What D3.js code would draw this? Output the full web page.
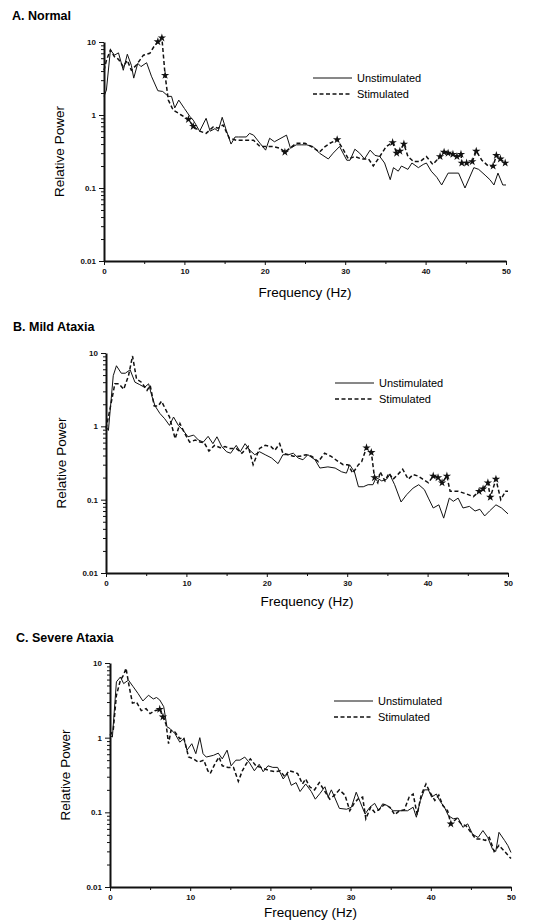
<!DOCTYPE html>
<html>
<head>
<meta charset="utf-8">
<script src="https://cdn.jsdelivr.net/npm/d3@7"></script>
<style>
  body { margin: 0; background: #fff; }
  svg { display: block; font-family: "Liberation Sans", Arial, sans-serif; }
  .domain { stroke: #111; stroke-width: 2; }
  .tick line { stroke: #111; }
</style>
</head>
<body>
<svg id="chart" width="543" height="922"></svg>
<script>
// [Hz, relative power]
var aUnstim = [[0,1.8],[0.3,2.2],[0.8,7.8],[1.3,6.6],[1.8,7.1],[2.4,4.1],[2.9,6.8],[3.4,4.8],[3.7,3.2],[4.2,5.1],[4.6,4.6],[5.3,5.2],[5.9,3.4],[6.7,2.15],[7.3,2.1],[8,1.8],[8.4,1.8],[8.8,1.25],[9.3,1.6],[10,1.23],[10.7,0.95],[11.1,0.85],[11.9,0.6],[12.7,0.9],[13.2,0.6],[13.8,0.65],[14.2,0.6],[14.7,0.93],[15.2,0.62],[15.8,0.4],[16.3,0.5],[16.7,0.5],[17.7,0.5],[18.1,0.56],[18.6,0.53],[19.4,0.41],[20.1,0.33],[20.6,0.48],[21.2,0.43],[22.7,0.53],[23.2,0.35],[23.9,0.39],[24.6,0.39],[25.2,0.39],[26,0.37],[26.8,0.3],[27.9,0.25],[28.5,0.3],[29.3,0.37],[30.2,0.24],[30.6,0.24],[31.2,0.34],[31.8,0.3],[32.4,0.25],[33.1,0.33],[33.7,0.28],[34.3,0.27],[34.9,0.22],[35.6,0.13],[36,0.19],[36.6,0.17],[37,0.2],[37.8,0.18],[38.3,0.22],[39.1,0.19],[39.7,0.21],[40.1,0.22],[40.7,0.17],[41.4,0.14],[42,0.11],[42.8,0.16],[44.1,0.16],[44.9,0.1],[46,0.19],[46.6,0.18],[47.4,0.15],[48,0.13],[48.5,0.11],[49,0.16],[49.6,0.11],[50,0.11]];
var aStim = [[0,4.1],[0.3,5.6],[0.8,7.8],[1.3,6.3],[1.8,5.8],[2.4,4.6],[2.9,5.6],[3.4,4.1],[4,4.8],[4.9,6.6],[5.7,7],[6.2,8.6],[6.7,10.1],[7.2,11.4],[7.6,3.5],[8,1.6],[8.6,1.17],[9.6,1],[10.5,0.87],[11.1,0.7],[11.9,0.6],[12.7,0.56],[13.6,0.69],[14.2,0.66],[14.8,0.73],[15.6,0.48],[16.5,0.45],[17.7,0.45],[18.6,0.45],[19.4,0.37],[20.2,0.37],[21,0.37],[21.9,0.35],[22.5,0.31],[23.1,0.35],[23.9,0.41],[25,0.41],[25.8,0.37],[26.8,0.31],[27.5,0.37],[28.1,0.41],[29,0.46],[29.8,0.33],[30.4,0.25],[31.2,0.27],[32,0.25],[32.9,0.25],[33.5,0.2],[34.3,0.27],[35.1,0.37],[35.9,0.42],[36.4,0.3],[36.8,0.32],[37.3,0.4],[37.8,0.27],[38.5,0.23],[39.3,0.23],[40.1,0.27],[40.9,0.21],[41.8,0.27],[42.3,0.31],[42.8,0.3],[43.4,0.29],[43.9,0.27],[44.4,0.29],[44.5,0.22],[45.1,0.22],[45.8,0.23],[46.3,0.32],[47,0.24],[47.8,0.2],[48.4,0.2],[48.8,0.28],[49.3,0.25],[49.9,0.22]];
var aStars = [[6.7,10.1],[7.2,11.4],[7.6,3.5],[10.5,0.87],[11.1,0.7],[22.5,0.31],[29,0.46],[35.9,0.42],[36.4,0.3],[36.8,0.32],[37.3,0.4],[41.8,0.27],[42.3,0.31],[42.8,0.3],[43.4,0.29],[43.9,0.27],[44.4,0.29],[44.5,0.22],[45.1,0.22],[45.8,0.23],[46.3,0.32],[48.4,0.2],[48.8,0.28],[49.3,0.25],[49.9,0.22]];

var bUnstim = [[0,1],[0.3,0.88],[0.9,4.9],[1.3,6.7],[1.9,5.3],[2.4,5.3],[3,5.9],[3.6,4],[4.2,3.7],[4.8,3.4],[5.3,3.8],[5.7,2.6],[6.1,1.9],[6.7,1.5],[7.3,1.27],[7.9,1.03],[8.4,1.34],[9,1.03],[9.6,0.88],[10.2,0.72],[10.9,0.76],[11.5,0.65],[12.1,0.61],[12.7,0.73],[13.3,0.58],[13.8,0.72],[14.4,0.53],[15,0.45],[15.5,0.43],[16.2,0.55],[16.7,0.45],[17.3,0.58],[17.9,0.47],[18.5,0.41],[19.1,0.45],[19.8,0.41],[20.6,0.37],[21.4,0.31],[22,0.41],[22.7,0.41],[23.3,0.43],[23.9,0.37],[24.5,0.35],[25.1,0.41],[26,0.35],[26.6,0.27],[27.6,0.28],[28.5,0.27],[29.3,0.24],[29.9,0.23],[30.3,0.3],[30.9,0.24],[31.4,0.15],[32,0.15],[32.6,0.16],[33.2,0.16],[33.6,0.2],[34.3,0.18],[34.9,0.19],[35.3,0.22],[35.9,0.16],[36.7,0.093],[37.4,0.117],[38.2,0.144],[38.9,0.16],[39.6,0.137],[40.1,0.105],[40.7,0.077],[41.4,0.085],[42,0.056],[42.7,0.105],[43.2,0.095],[43.8,0.105],[44.4,0.077],[45.2,0.081],[45.9,0.07],[46.5,0.074],[47.1,0.06],[47.7,0.07],[48.5,0.085],[49.2,0.077],[50,0.064]];
var bStim = [[0,0.93],[0.5,1.73],[1.1,3.8],[1.6,3.8],[2.2,3.2],[2.8,4.9],[3.3,9.1],[3.8,4.4],[4.4,4],[5.1,3.1],[5.5,3.6],[6,1.9],[6.5,1.9],[6.9,2.2],[7.3,1.8],[7.9,1.34],[8.6,0.68],[9.2,1.09],[9.8,0.8],[10.4,0.61],[11.1,0.65],[11.7,0.61],[12.2,0.6],[12.8,0.46],[13.5,0.55],[14.2,0.51],[14.8,0.53],[15.4,0.5],[16.2,0.5],[16.9,0.43],[17.7,0.53],[18.3,0.3],[19.1,0.5],[19.8,0.55],[20.5,0.53],[21,0.47],[21.6,0.58],[22,0.43],[22.7,0.41],[23.3,0.39],[24.1,0.39],[24.9,0.41],[25.6,0.39],[26.4,0.33],[27.2,0.43],[28,0.39],[28.9,0.33],[29.5,0.3],[30.1,0.3],[30.7,0.23],[31.4,0.3],[31.8,0.33],[32.4,0.51],[33,0.44],[33.4,0.2],[33.8,0.17],[34.1,0.24],[34.7,0.18],[35.2,0.23],[35.7,0.19],[36.3,0.22],[36.9,0.26],[37.6,0.19],[38.2,0.22],[38.8,0.21],[39.4,0.19],[40.1,0.17],[40.7,0.21],[41.3,0.2],[41.8,0.17],[42.4,0.21],[42.8,0.13],[43.8,0.13],[44.8,0.12],[45.7,0.11],[46.4,0.13],[46.9,0.14],[47.5,0.17],[47.8,0.108],[48.5,0.19],[49.1,0.1],[49.7,0.13],[50,0.13]];
var bStars = [[32.4,0.51],[33,0.44],[33.4,0.2],[40.7,0.21],[41.3,0.2],[41.8,0.17],[42.4,0.21],[46.4,0.13],[46.9,0.14],[47.5,0.17],[47.8,0.108],[48.5,0.19]];

var cUnstim = [[0,1.07],[0.3,1.02],[0.8,5.6],[1.3,6.5],[1.7,5.3],[2.3,5.9],[2.9,4.8],[3.5,3.9],[4.1,3.1],[4.8,3.7],[5.4,3.3],[5.8,3.45],[6.2,3.2],[6.7,2.6],[7.1,1.4],[7.5,1.32],[8.1,1.13],[8.7,0.87],[9.2,0.97],[9.6,0.68],[10.2,0.83],[10.7,0.61],[11.2,1],[11.6,0.61],[12,0.55],[12.9,0.58],[13.5,0.62],[14,0.52],[14.6,0.68],[15.1,0.42],[15.7,0.5],[16.2,0.5],[16.8,0.55],[17.4,0.46],[18,0.36],[18.6,0.44],[19.1,0.35],[19.7,0.42],[20.3,0.4],[20.9,0.4],[21.6,0.28],[22.1,0.33],[22.6,0.23],[23.2,0.25],[23.7,0.19],[24.4,0.24],[25.1,0.19],[25.6,0.15],[26.2,0.18],[26.8,0.22],[27.2,0.16],[27.6,0.2],[28,0.16],[28.6,0.113],[29.5,0.11],[30.1,0.117],[30.7,0.186],[31.2,0.137],[31.8,0.095],[32.4,0.117],[33,0.132],[33.5,0.105],[34,0.13],[34.6,0.123],[35.3,0.105],[35.9,0.105],[36.5,0.105],[37.1,0.105],[37.8,0.117],[38.2,0.086],[38.7,0.144],[39.2,0.2],[39.7,0.2],[40.1,0.16],[40.7,0.176],[41.1,0.144],[41.7,0.117],[42.2,0.09],[42.8,0.082],[43.4,0.084],[44,0.063],[44.6,0.07],[45.2,0.051],[45.9,0.046],[46.5,0.057],[47.1,0.046],[47.7,0.032],[48.1,0.03],[48.5,0.054],[49.2,0.042],[49.6,0.036],[50,0.029]];
var cStim = [[0,1.07],[0.4,1.25],[0.8,3.7],[1.3,5.9],[1.7,6.9],[2,8.5],[2.4,4.8],[2.8,2.9],[3.3,3],[3.9,2.3],[4.5,2.45],[5,2.1],[5.6,2.3],[6.2,2.4],[6.6,1.9],[7,1.5],[7.3,0.83],[7.6,1.25],[8.1,1.19],[8.7,0.97],[9.2,1],[9.8,0.55],[10.4,0.52],[11,0.47],[11.7,0.5],[12.2,0.36],[12.5,0.33],[13.1,0.45],[13.6,0.55],[14,0.42],[14.7,0.4],[15.4,0.4],[16,0.26],[16.5,0.36],[17,0.45],[17.5,0.52],[18.2,0.42],[18.8,0.4],[19.3,0.38],[20,0.36],[20.7,0.35],[21.2,0.36],[21.8,0.3],[22.3,0.36],[22.8,0.35],[23.4,0.33],[24,0.24],[24.4,0.28],[24.9,0.22],[25.5,0.2],[26.1,0.25],[26.8,0.19],[27.4,0.15],[28,0.17],[28.6,0.2],[29.3,0.17],[29.9,0.105],[30.4,0.13],[30.9,0.15],[31.5,0.16],[31.9,0.082],[32.5,0.117],[33,0.1],[33.6,0.11],[34.2,0.127],[34.9,0.117],[35.5,0.093],[36.1,0.105],[36.7,0.108],[37.3,0.16],[37.8,0.176],[38.3,0.093],[38.8,0.17],[39.4,0.24],[39.9,0.186],[40.5,0.144],[41,0.17],[41.5,0.123],[42.1,0.105],[42.5,0.07],[43.2,0.082],[43.8,0.07],[44.4,0.066],[45,0.054],[45.6,0.044],[46.3,0.044],[46.8,0.042],[47.3,0.046],[47.9,0.03],[48.5,0.036],[49.2,0.03],[50,0.024]];
var cStars = [[6.2,2.4],[6.6,1.9],[42.5,0.07]];

var yTicks = [0.01, 0.1, 1, 10];
var xTicks = [0, 10, 20, 30, 40, 50];
var legendNames = ["Unstimulated", "Stimulated"];

var panels = [
  { title: "A. Normal", tx: 12, ty: 20, left: 104, right: 506, top: 42, bottom: 261, xLab: 297, legX: 313, legY: 78, unstim: aUnstim, stim: aStim, stars: aStars },
  { title: "B. Mild Ataxia", tx: 13, ty: 331, left: 106, right: 508, top: 353, bottom: 573, xLab: 606, legX: 335, legY: 383, unstim: bUnstim, stim: bStim, stars: bStars },
  { title: "C. Severe Ataxia", tx: 16, ty: 642, left: 110, right: 511, top: 663, bottom: 887, xLab: 917, legX: 334, legY: 701, unstim: cUnstim, stim: cStim, stars: cStars }
];

var svg = d3.select("#chart");

panels.forEach(function(p) {
  var x = d3.scaleLinear().domain([0, 50]).range([p.left, p.right]);
  var y = d3.scaleLog().domain([0.01, 10]).range([p.bottom, p.top]);

  svg.append("text")
    .attr("x", p.tx).attr("y", p.ty)
    .attr("font-size", 12.5).attr("font-weight", "bold")
    .text(p.title);

  // minor log ticks
  var minor = [];
  [0.01, 0.1, 1].forEach(function(d) { for (var k = 2; k <= 9; k++) minor.push(d * k); });
  svg.append("g")
    .attr("transform", "translate(" + p.left + ",0)")
    .call(d3.axisLeft(y).tickValues(minor).tickSize(3).tickFormat(""))
    .call(function(g) { g.select(".domain").remove(); });

  var yAxis = svg.append("g")
    .attr("transform", "translate(" + p.left + ",0)")
    .call(d3.axisLeft(y).tickValues(yTicks).tickSize(5).tickSizeOuter(0)
      .tickFormat(function(d) { return d >= 1 ? d3.format("d")(d) : String(d); }));
  yAxis.selectAll("text").attr("font-size", 8).attr("font-weight", "bold").attr("fill", "#111");

  svg.append("g")
    .attr("transform", "translate(0," + p.bottom + ")")
    .call(d3.axisBottom(x).tickValues(d3.range(5, 50, 10)).tickSize(3).tickFormat(""))
    .call(function(g) { g.select(".domain").remove(); });

  var xAxis = svg.append("g")
    .attr("transform", "translate(0," + p.bottom + ")")
    .call(d3.axisBottom(x).tickValues(xTicks).tickSize(4).tickSizeOuter(0));
  xAxis.selectAll("text").attr("font-size", 8).attr("font-weight", "bold").attr("fill", "#111");

  svg.append("text")
    .attr("x", (p.left + p.right) / 2).attr("y", p.xLab)
    .attr("text-anchor", "middle").attr("font-size", 13.5)
    .text("Frequency (Hz)");

  svg.append("text")
    .attr("transform", "translate(" + (p.left - 40) + "," + ((p.top + p.bottom) / 2) + ") rotate(-90)")
    .attr("text-anchor", "middle").attr("font-size", 13.5)
    .text("Relative Power");

  var line = d3.line()
    .x(function(d) { return x(d[0]); })
    .y(function(d) { return y(d[1]); });

  svg.append("path").datum(p.unstim)
    .attr("d", line).attr("fill", "none")
    .attr("stroke", "#111").attr("stroke-width", 1);

  svg.append("path").datum(p.stim)
    .attr("d", line).attr("fill", "none")
    .attr("stroke", "#111").attr("stroke-width", 1.5)
    .attr("stroke-dasharray", "4,2.5");

  svg.selectAll(null).data(p.stars).enter().append("path")
    .attr("d", d3.symbol().type(d3.symbolStar).size(22))
    .attr("transform", function(d) { return "translate(" + x(d[0]) + "," + y(d[1]) + ")"; })
    .attr("fill", "#111");

  // legend
  legendNames.forEach(function(name, i) {
    var ly = p.legY + i * 16;
    svg.append("line")
      .attr("x1", p.legX).attr("x2", p.legX + 39)
      .attr("y1", ly).attr("y2", ly)
      .attr("stroke", "#111").attr("stroke-width", i ? 1.5 : 1)
      .attr("stroke-dasharray", i ? "4,2.5" : null);
    svg.append("text")
      .attr("x", p.legX + 44).attr("y", ly + 4)
      .attr("font-size", 11)
      .text(name);
  });
});
</script>
</body>
</html>
